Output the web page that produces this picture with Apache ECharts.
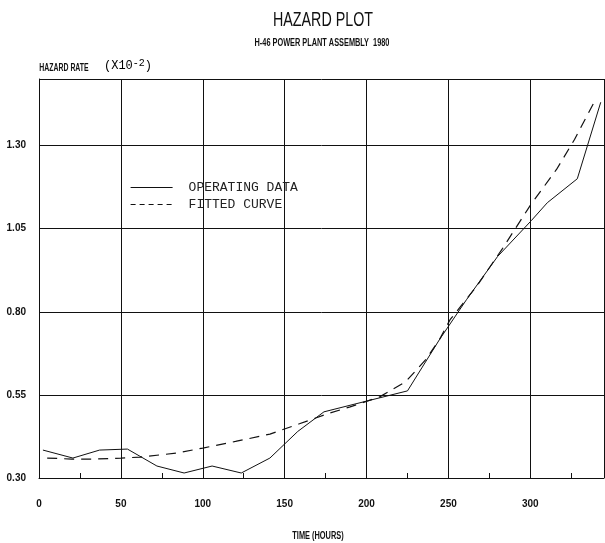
<!DOCTYPE html>
<html>
<head>
<meta charset="utf-8">
<script src="https://cdn.jsdelivr.net/npm/echarts@6/dist/echarts.min.js"></script>
<style>html,body{margin:0;padding:0;background:#fff}#c{width:605px;height:543px}</style>
</head>
<body>
<div id="c"></div>
<script>
// ---- data ----
const opTime = [2.4, 20.7, 37, 54, 72, 88.6, 105.7, 123.5, 141, 158, 174, 200.6, 225, 244.5, 261, 280, 300.6, 310.4, 328.7, 343];
const opRate = [0.384, 0.36, 0.384, 0.387, 0.336, 0.315, 0.336, 0.315, 0.36, 0.44, 0.499, 0.532, 0.562, 0.716, 0.836, 0.966, 1.074, 1.128, 1.20, 1.43];
const fitTime = [5, 20, 35, 50, 62, 84, 100, 120, 141, 159, 176, 190, 208, 224, 236, 244.5, 251, 267, 283, 300, 316, 327, 340];
const fitRate = [0.36, 0.357, 0.357, 0.36, 0.363, 0.375, 0.39, 0.41, 0.432, 0.463, 0.493, 0.514, 0.544, 0.59, 0.655, 0.716, 0.776, 0.875, 0.99, 1.12, 1.228, 1.318, 1.44];
const seriesNames = ['OPERATING DATA', 'FITTED CURVE'];
const xTickLabels = [0, 50, 100, 150, 200, 250, 300];
const yBase = 0.30;      // bottom of the rate axis
const yLabels = [0.30, 0.55, 0.80, 1.05, 1.30];

const chart = echarts.init(document.getElementById('c'), null, {renderer: 'canvas'});
const lblFont = {fontFamily: '"Liberation Sans",Arial,sans-serif', fontWeight: 'bold', fontSize: 10, color: '#111'};
const toPairs = (xs, ys) => xs.map((x, i) => [x, ys[i] - yBase]);
const narrow = (text, x, y, size, weight, sx) => ({
  type: 'text', x: x, y: y, scaleX: sx, scaleY: 1,
  style: {text: text, align: 'center', verticalAlign: 'middle',
    font: weight + ' ' + size + 'px "Liberation Sans",Arial,sans-serif', fill: '#111'}
});

const option = {
  animation: false,
  backgroundColor: '#fff',
  grid: {left: 39, right: 1, top: 79, bottom: 65},
  legend: {
    orient: 'vertical', left: 130, top: 181, padding: 0, itemWidth: 42, itemHeight: 12, itemGap: 4,
    itemStyle: {opacity: 0},
    textStyle: {fontFamily: '"Liberation Mono","DejaVu Sans Mono",monospace', fontSize: 13, color: '#222', padding: [0,0,0,11]},
    data: [
      {name: seriesNames[0], lineStyle: {type: 'solid', width: 1, color: '#111'}},
      {name: seriesNames[1], lineStyle: {type: [5, 4], width: 1.2, color: '#111'}}
    ]
  },
  graphic: [
    narrow('HAZARD PLOT', 323, 20, 21, 'normal', 0.68),
    narrow('H-46 POWER PLANT ASSEMBLY  1980', 322, 43.5, 10.5, 'bold', 0.70),
    narrow('HAZARD RATE', 64, 68, 10, 'bold', 0.69),
    narrow('TIME (HOURS)', 318, 536, 10, 'bold', 0.74),
    {type: 'text', x: 104, y: 66, style: {text: '{a|(X10}{b|-2}{a|)}', align: 'left', verticalAlign: 'middle',
      rich: {a: {fontFamily: '"Liberation Mono",monospace', fontSize: 12, color: '#111'}, b: {fontFamily: '"Liberation Mono",monospace', fontSize: 10, color: '#111', verticalAlign: 'top', padding: [0,0,6,0]}}}}
  ],
  xAxis: [
    {type: 'value', min: 0, max: 345, interval: 50,
      axisLine: {lineStyle: {color: '#111', width: 1}}, axisTick: {show: false},
      splitLine: {show: true, lineStyle: {color: '#111', width: 1}},
      axisLabel: Object.assign({margin: 21, showMaxLabel: false,
        formatter: v => { const m = xTickLabels.find(t => Math.abs(t - v) < 1e-6); return m === undefined ? '' : String(m); }}, lblFont)},
    {type: 'value', position: 'bottom', min: 0, max: 345, interval: 25,
      axisLine: {show: false}, axisTick: {show: true, inside: true, length: 5, lineStyle: {color: '#111'}},
      axisLabel: {show: false, formatter: () => ''}, splitLine: {show: false}}
  ],
  yAxis: {type: 'value', min: 0, max: 1.2, interval: 0.25,
    axisLine: {show: true, lineStyle: {color: '#111', width: 1}}, axisTick: {show: false},
    splitLine: {show: true, lineStyle: {color: '#111', width: 1}},
    axisLabel: Object.assign({margin: 13, showMaxLabel: false,
      formatter: v => { const r = v + yBase; const m = yLabels.find(l => Math.abs(l - r) < 1e-6); return m === undefined ? '' : m.toFixed(2); }}, lblFont)},
  series: [
    {name: seriesNames[0], type: 'line', xAxisIndex: 0, showSymbol: false, symbol: 'none',
      lineStyle: {color: '#111', width: 1}, itemStyle: {color: '#111'}, data: toPairs(opTime, opRate)},
    {name: seriesNames[1], type: 'line', xAxisIndex: 0, showSymbol: false, symbol: 'none',
      lineStyle: {color: '#111', width: 1.2, type: [10, 7]}, itemStyle: {color: '#111'}, data: toPairs(fitTime, fitRate)}
  ]
};
chart.setOption(option);
</script>
</body>
</html>
